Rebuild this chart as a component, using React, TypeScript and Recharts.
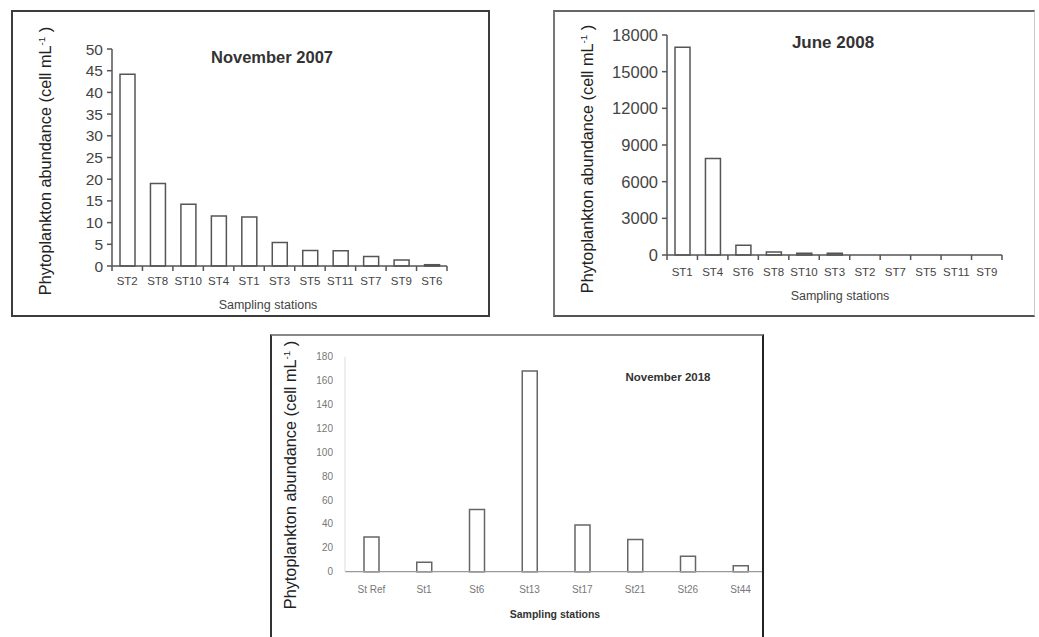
import { BarChart, Bar, XAxis, YAxis } from "recharts";
import type { CSSProperties, ReactNode } from "react";

const nov2007Stations = ["ST2", "ST8", "ST10", "ST4", "ST1", "ST3", "ST5", "ST11", "ST7", "ST9", "ST6"];
const nov2007Values = [44.2, 19, 14.2, 11.5, 11.3, 5.4, 3.6, 3.5, 2.2, 1.4, 0.3];
const nov2007Ticks = [0, 5, 10, 15, 20, 25, 30, 35, 40, 45, 50];

const jun2008Stations = ["ST1", "ST4", "ST6", "ST8", "ST10", "ST3", "ST2", "ST7", "ST5", "ST11", "ST9"];
const jun2008Values = [17000, 7900, 800, 250, 150, 150, 0, 0, 0, 0, 0];
const jun2008Ticks = [0, 3000, 6000, 9000, 12000, 15000, 18000];

const nov2018Stations = ["St Ref", "St1", "St6", "St13", "St17", "St21", "St26", "St44"];
const nov2018Values = [29, 8, 52, 168, 39, 27, 13, 5];
const nov2018Ticks = [0, 20, 40, 60, 80, 100, 120, 140, 160, 180];

const nov2007Data = nov2007Stations.map((s, i) => ({ station: s, value: nov2007Values[i] }));
const jun2008Data = jun2008Stations.map((s, i) => ({ station: s, value: jun2008Values[i] }));
const nov2018Data = nov2018Stations.map((s, i) => ({ station: s, value: nov2018Values[i] }));

const FONT = "'Liberation Sans', Arial, sans-serif";

// category label with small tick marks on the band edges (Excel 2003 style)
const edgeTick = (margin: number, fontSize: number) => (props: any) => {
  const { x, y, payload, index } = props;
  const half = payload?.offset || 15;
  const axisY = y - margin;
  return (
    <g>
      <text x={x} y={y} dy="0.71em" textAnchor="middle" fill="#444" fontSize={fontSize}>{payload.value}</text>
      {index === 0 && <line x1={x - half} x2={x - half} y1={axisY} y2={axisY + 5} stroke="#555" strokeWidth={1.5} />}
      <line x1={x + half} x2={x + half} y1={axisY} y2={axisY + 5} stroke="#555" strokeWidth={1.5} />
    </g>
  );
};

// text placed by its centre, inside a panel
function Txt({ x, y, size, bold, color, rotate, children }: {
  x: number; y: number; size: number; bold?: boolean; color?: string; rotate?: boolean; children: ReactNode;
}) {
  return (
    <div
      style={{
        position: "absolute", left: x, top: y, whiteSpace: "nowrap", fontSize: size,
        fontWeight: bold ? 700 : 400, color: color ?? "#333", lineHeight: 1,
        transform: `translate(-50%, -50%)${rotate ? " rotate(-90deg)" : ""}`,
      }}
    >
      {children}
    </div>
  );
}

function Panel({ left, top, width, height, border, children }: {
  left: number; top: number; width: number; height: number; border: CSSProperties; children: ReactNode;
}) {
  return (
    <div style={{ position: "absolute", left, top, width, height, overflow: "hidden" }}>
      {children}
      <div style={{ position: "absolute", inset: 0, boxSizing: "border-box", pointerEvents: "none", ...border }} />
    </div>
  );
}

const yLabel = (
  <>Phytoplankton abundance (cell mL<sup style={{ fontSize: "0.6em" }}>-1</sup> )</>
);

export default function App() {
  return (
    <div style={{ position: "absolute", left: 0, top: 0, width: 1039, height: 637, background: "#fff", overflow: "hidden", fontFamily: FONT }}>
      {/* November 2007 */}
      <Panel left={11} top={10} width={479} height={307} border={{ border: "2px solid #3c3c3c" }}>
        <BarChart width={479} height={307} data={nov2007Data} margin={{ top: 39, right: 43, left: 100, bottom: 50 }}>
          <XAxis dataKey="station" height={1} tickLine={false} tickSize={0} tickMargin={11} interval={0}
            axisLine={{ stroke: "#555", strokeWidth: 1.5 }} tick={edgeTick(11, 11.5)} />
          <YAxis width={1} domain={[0, 50]} ticks={nov2007Ticks} interval={0} tickSize={5} tickMargin={4}
            axisLine={{ stroke: "#555", strokeWidth: 1.5 }} tickLine={{ stroke: "#555", strokeWidth: 1.5 }}
            tick={{ fill: "#444", fontSize: 15.5 }} />
          <Bar dataKey="value" barSize={15} fill="#fff" stroke="#555" strokeWidth={1.5} isAnimationActive={false} />
        </BarChart>
        <Txt x={261} y={47} size={16.5} bold>November 2007</Txt>
        <Txt x={34} y={151} size={16.3} rotate color="#222">{yLabel}</Txt>
        <Txt x={257} y={295} size={12.5} color="#444">Sampling stations</Txt>
      </Panel>

      {/* June 2008 */}
      <Panel left={553} top={10} width={482} height={307}
        border={{ borderTop: "2px solid #666", borderLeft: "2px solid #777", borderBottom: "2px solid #555", borderRight: "1px solid #ccc" }}>
        <BarChart width={482} height={307} data={jun2008Data} margin={{ top: 25, right: 33, left: 113, bottom: 61 }}>
          <XAxis dataKey="station" height={1} tickLine={false} tickSize={0} tickMargin={13} interval={0}
            axisLine={{ stroke: "#555", strokeWidth: 1.5 }} tick={edgeTick(13, 11.5)} />
          <YAxis width={1} domain={[0, 18000]} ticks={jun2008Ticks} interval={0} tickSize={5} tickMargin={4}
            axisLine={{ stroke: "#555", strokeWidth: 1.5 }} tickLine={{ stroke: "#555", strokeWidth: 1.5 }}
            tick={{ fill: "#444", fontSize: 16.5 }} />
          <Bar dataKey="value" barSize={15} fill="#fff" stroke="#555" strokeWidth={1.5} isAnimationActive={false} />
        </BarChart>
        <Txt x={280} y={32} size={17} bold>June 2008</Txt>
        <Txt x={34} y={149} size={16.3} rotate color="#222">{yLabel}</Txt>
        <Txt x={287} y={286} size={12.5} color="#444">Sampling stations</Txt>
      </Panel>

      {/* November 2018 */}
      <Panel left={270} top={334} width={494} height={310}
        border={{ borderTop: "2px solid #888", borderLeft: "2px solid #333", borderRight: "2px solid #222" }}>
        <BarChart width={497} height={306} data={nov2018Data} margin={{ top: 22.7, right: 0, left: 74, bottom: 67.3 }}>
          <XAxis dataKey="station" height={1} tickLine={false} tickSize={0} tickMargin={14} interval={0}
            axisLine={{ stroke: "#999", strokeWidth: 1.2 }} tick={{ fill: "#777", fontSize: 10 }} />
          <YAxis width={1} domain={[0, 180]} ticks={nov2018Ticks} interval={0} tickSize={0} tickMargin={12}
            axisLine={{ stroke: "#ddd", strokeWidth: 1 }} tickLine={false}
            tick={{ fill: "#777", fontSize: 10 }} />
          <Bar dataKey="value" barSize={15} fill="#fff" stroke="#666" strokeWidth={1.5} isAnimationActive={false} />
        </BarChart>
        <Txt x={398} y={44} size={11.5} bold>November 2018</Txt>
        <Txt x={20} y={141} size={16.3} rotate color="#222">{yLabel}</Txt>
        <Txt x={285} y={280} size={10.5} bold color="#333">Sampling stations</Txt>
      </Panel>
    </div>
  );
}
